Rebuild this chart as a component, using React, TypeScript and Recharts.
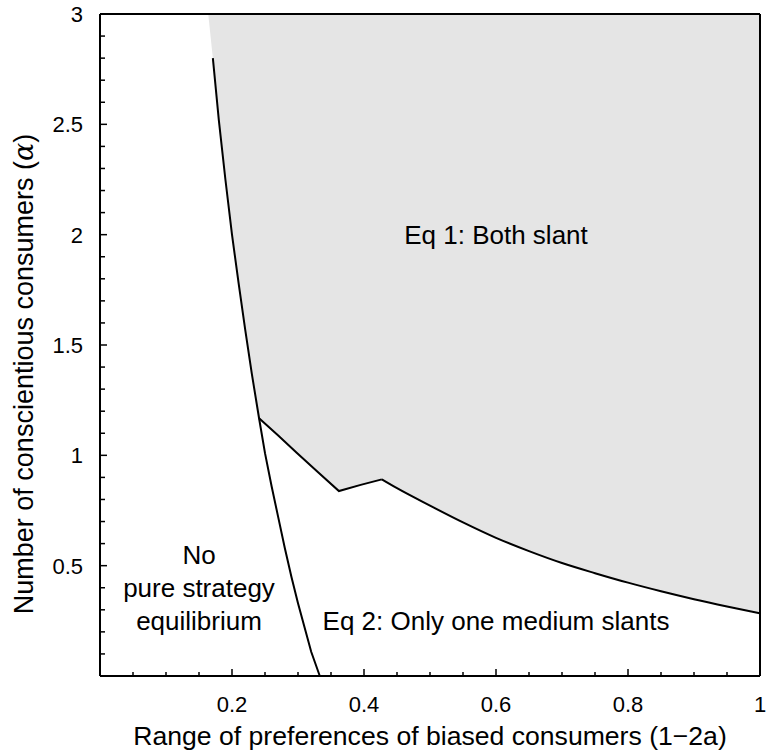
import { ComposedChart, Area, Line, XAxis, YAxis, ReferenceDot } from 'recharts';

const FONT = '"Liberation Sans", Arial, Helvetica, sans-serif';

// boundary of the "no pure strategy" region (x = 1-2a, alpha)
const noEqX = [0.164, 0.171, 0.18, 0.19, 0.2, 0.21, 0.22, 0.23, 0.241, 0.25, 0.26, 0.27, 0.28, 0.29, 0.3, 0.31, 0.32, 0.333];
const noEqAlpha = [3.0, 2.8, 2.52, 2.25, 2.0, 1.78, 1.57, 1.37, 1.168, 1.01, 0.86, 0.72, 0.58, 0.45, 0.33, 0.22, 0.11, 0];

// lower edge of the "both slant" region
const slantX = [0.241, 0.27, 0.298, 0.33, 0.362, 0.395, 0.427, 0.45, 0.5, 0.55, 0.6, 0.65, 0.7, 0.75, 0.8, 0.85, 0.9, 0.95, 1];
const slantAlpha = [1.168, 1.09, 1.012, 0.924, 0.838, 0.866, 0.891, 0.851, 0.772, 0.696, 0.626, 0.566, 0.512, 0.466, 0.423, 0.384, 0.348, 0.315, 0.284];
const PEAK = 0.427;

const xTicks = [0.05, 0.1, 0.15, 0.2, 0.25, 0.3, 0.35, 0.4, 0.45, 0.5, 0.55, 0.6, 0.65, 0.7, 0.75, 0.8, 0.85, 0.9, 0.95, 1];
const xMajor = [0.2, 0.4, 0.6, 0.8, 1];
const yTicks = [0.1, 0.2, 0.3, 0.4, 0.5, 0.6, 0.7, 0.8, 0.9, 1, 1.1, 1.2, 1.3, 1.4, 1.5, 1.6, 1.7, 1.8, 1.9, 2, 2.1, 2.2, 2.3, 2.4, 2.5, 2.6, 2.7, 2.8, 2.9, 3];
const yMajor = [0.5, 1, 1.5, 2, 2.5, 3];

const shadeData = [
  ...noEqX.map((x, i) => ({ x, band: [noEqAlpha[i], 3] })).filter((d) => d.x < slantX[0]),
  ...slantX.map((x, i) => ({ x, band: [slantAlpha[i], 3] })),
];
// the drawn line starts a little below the top edge
const noEqLine = noEqX.map((x, i) => ({ x, a: noEqAlpha[i] })).slice(1);
const slantAll = slantX.map((x, i) => ({ x, a: slantAlpha[i] }));
const slantHead = slantAll.filter((d) => d.x <= PEAK);
const slantTail = slantAll.filter((d) => d.x >= PEAK);

const isMajor = (v: number, list: number[]) => list.some((m) => Math.abs(m - v) < 1e-6);

function XTick(props: any) {
  const { x, y, payload, side } = props;
  const v = payload.value;
  const len = isMajor(v, xMajor) ? 7 : 4;
  const dir = side === 'top' ? 1 : -1;
  return (
    <g>
      {v < 1 && <line x1={x} x2={x} y1={y} y2={y + dir * len} stroke="#000" strokeWidth={1.5} />}
      {side !== 'top' && isMajor(v, xMajor) && (
        <text x={x} y={y + 36} textAnchor="middle" fontSize={22} fontFamily={FONT} fill="#000">
          {String(v)}
        </text>
      )}
    </g>
  );
}

function YTick(props: any) {
  const { x, y, payload, side } = props;
  const v = payload.value;
  const len = isMajor(v, yMajor) ? 7 : 5;
  const dir = side === 'right' ? -1 : 1;
  return (
    <g>
      {v < 3 && <line x1={x} x2={x + dir * len} y1={y} y2={y} stroke="#000" strokeWidth={1.5} />}
      {side !== 'right' && isMajor(v, yMajor) && (
        <text x={x - 17} y={y + 8} textAnchor="end" fontSize={22} fontFamily={FONT} fill="#000">
          {String(v)}
        </text>
      )}
    </g>
  );
}

function XTitle(props: any) {
  const vb = props.viewBox;
  return (
    <text x={vb.x + vb.width / 2} y={vb.y + 69} textAnchor="middle" fontSize={26.6} fontFamily={FONT} fill="#000">
      Range of preferences of biased consumers (1−2a)
    </text>
  );
}

function YTitle(props: any) {
  const vb = props.viewBox;
  const cx = vb.x + 33;
  const cy = vb.y + vb.height / 2 + 29;
  return (
    <text transform={`translate(${cx},${cy}) rotate(-90)`} textAnchor="middle" fontSize={27} fontFamily={FONT} fill="#000">
      Number of conscientious consumers (
      <tspan fontStyle="italic" fontFamily='"DejaVu Serif", serif'>α</tspan>)
    </text>
  );
}

const regionLabel = (value: string) => ({ value, position: 'center' as const, fontSize: 26, fontFamily: FONT, fill: '#000' });

export default function App() {
  return (
    <div style={{ position: 'absolute', left: 0, top: 0, width: 768, height: 753, background: '#fff' }}>
      <ComposedChart width={768} height={753} margin={{ top: 0, right: 0, bottom: 0, left: 0 }}>
        <XAxis
          xAxisId={0}
          dataKey="x"
          type="number"
          domain={[0, 1]}
          ticks={xTicks}
          interval={0}
          height={77}
          tickSize={0}
          tickMargin={0}
          tickLine={false}
          axisLine={{ stroke: '#000', strokeWidth: 2 }}
          tick={(p: any) => <XTick {...p} side="bottom" />}
          label={<XTitle />}
        />
        <XAxis
          xAxisId="top"
          orientation="top"
          dataKey="x"
          type="number"
          domain={[0, 1]}
          ticks={xTicks}
          interval={0}
          height={14}
          tickSize={0}
          tickMargin={0}
          tickLine={false}
          axisLine={{ stroke: '#000', strokeWidth: 2 }}
          tick={(p: any) => <XTick {...p} side="top" />}
        />
        <YAxis
          yAxisId={0}
          type="number"
          domain={[0, 3]}
          ticks={yTicks}
          interval={0}
          width={100}
          tickSize={0}
          tickMargin={0}
          tickLine={false}
          axisLine={{ stroke: '#000', strokeWidth: 2 }}
          tick={(p: any) => <YTick {...p} side="left" />}
          label={<YTitle />}
        />
        <YAxis
          yAxisId="right"
          orientation="right"
          type="number"
          domain={[0, 3]}
          ticks={yTicks}
          interval={0}
          width={8}
          tickSize={0}
          tickMargin={0}
          tickLine={false}
          axisLine={{ stroke: '#000', strokeWidth: 2 }}
          tick={(p: any) => <YTick {...p} side="right" />}
        />
        <Area
          data={shadeData}
          dataKey="band"
          type="linear"
          fill="#e5e5e5"
          fillOpacity={1}
          stroke="none"
          isAnimationActive={false}
        />
        <Line data={noEqLine} dataKey="a" type="linear" stroke="#000" strokeWidth={2} dot={false} isAnimationActive={false} />
        <Line data={slantHead} dataKey="a" type="linear" stroke="#000" strokeWidth={2} dot={false} isAnimationActive={false} />
        <Line data={slantTail} dataKey="a" type="monotoneX" stroke="#000" strokeWidth={2} dot={false} isAnimationActive={false} />
        <ReferenceDot x={0.6} y={2} r={0} fill="none" stroke="none" label={regionLabel('Eq 1: Both slant')} />
        <ReferenceDot x={0.6} y={0.25} r={0} fill="none" stroke="none" label={regionLabel('Eq 2: Only one medium slants')} />
        <ReferenceDot x={0.15} y={0.55} r={0} fill="none" stroke="none" label={regionLabel('No')} />
        <ReferenceDot x={0.15} y={0.4} r={0} fill="none" stroke="none" label={regionLabel('pure strategy')} />
        <ReferenceDot x={0.15} y={0.25} r={0} fill="none" stroke="none" label={regionLabel('equilibrium')} />
      </ComposedChart>
    </div>
  );
}
